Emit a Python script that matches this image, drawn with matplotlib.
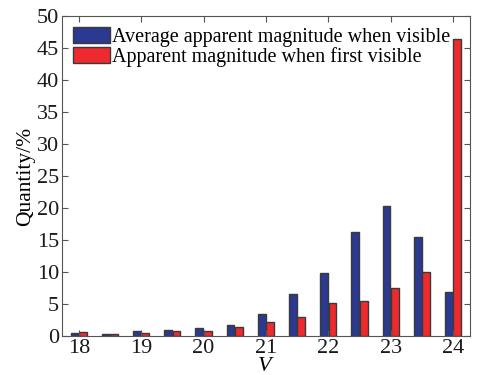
import numpy as np
import matplotlib
matplotlib.use('Agg')
import matplotlib.pyplot as plt

plt.rcParams['font.family'] = 'Liberation Serif'
plt.rcParams['mathtext.fontset'] = 'custom'
plt.rcParams['mathtext.it'] = 'Liberation Serif:italic'

# magnitude bins
v_bins = [18, 18.5, 19, 19.5, 20, 20.5, 21, 21.5, 22, 22.5, 23, 23.5, 24]
avg_visible = [0.6, 0.35, 0.8, 1.0, 1.35, 1.77, 3.43, 6.55, 9.88, 16.37, 20.37, 15.44, 6.91]
first_visible = [0.73, 0.36, 0.52, 0.88, 0.83, 1.4, 2.29, 3.07, 5.15, 5.46, 7.54, 9.98, 46.4]
labels = ['Average apparent magnitude when visible', 'Apparent magnitude when first visible']

fig = plt.figure(figsize=(4.8, 3.75), dpi=100)
ax = fig.add_axes([0.129, 0.103, 0.85, 0.854])

x = np.array(v_bins)
w = 0.125
ax.bar(x - 0.067, avg_visible, w, color='#2b3990', edgecolor='#3a3a3a', linewidth=1, label=labels[0])
ax.bar(x + 0.067, first_visible, w, color='#ee2a2e', edgecolor='#3a3a3a', linewidth=1, label=labels[1])

ax.set_xlim(17.73, 24.27)
ax.set_ylim(0, 50)
ax.set_xticks(range(18, 25))
ax.set_yticks(range(0, 51, 5))
ax.tick_params(direction='in', top=True, right=True, labelsize=16, length=4, colors='#555555', labelcolor='#1a1a1a', pad=2)
for s in ax.spines.values():
    s.set_color('#555555')

ax.set_xlabel('$V$', fontsize=16, labelpad=-1)
ax.set_ylabel('Quantity/%', fontsize=15.5, labelpad=1)

ax.legend(loc='upper left', frameon=False, fontsize=14.5, handlelength=1.85, handleheight=0.8,
          handletextpad=0.1, labelspacing=0.0, borderaxespad=0.2, borderpad=0.35)

fig.savefig('out.png', dpi=100)
